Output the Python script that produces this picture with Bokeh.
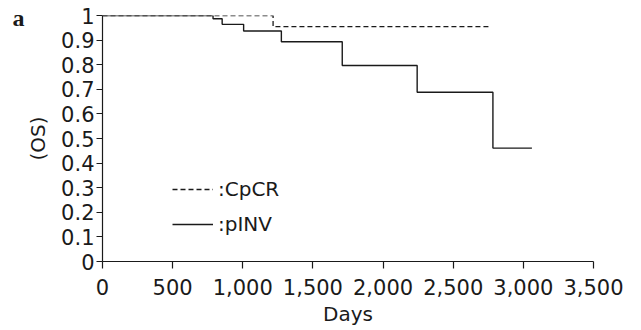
from bokeh.plotting import figure
from bokeh.models import FixedTicker, Legend, LegendItem, Title, Range1d
from bokeh.embed import file_html
from bokeh.resources import INLINE

# Data
pinv_days = [0, 788, 853, 1006, 1275, 1709, 2243, 2783, 3061]
pinv_surv = [1.0, 0.987, 0.964, 0.937, 0.893, 0.797, 0.688, 0.461, 0.461]
cpcr_days = [0, 1216, 2751]
cpcr_surv = [1.0, 0.955, 0.955]

x_ticks = [0, 500, 1000, 1500, 2000, 2500, 3000, 3500]
x_tick_labels = ["0", "500", "1,000", "1,500", "2,000", "2,500", "3,000", "3,500"]
y_ticks = [0, 0.1, 0.2, 0.3, 0.4, 0.5, 0.6, 0.7, 0.8, 0.9, 1.0]
y_tick_labels = ["0", "0.1", "0.2", "0.3", "0.4", "0.5", "0.6", "0.7", "0.8", "0.9", "1"]

FONT = "DejaVu Sans"
INK = "#1a1a1a"

p = figure(width=641, height=330, output_backend="svg", toolbar_location=None,
           x_range=Range1d(0, 3500), y_range=Range1d(0, 1),
           min_border_left=102, min_border_right=48, min_border_top=15, min_border_bottom=69)
p.outline_line_color = None
p.xgrid.visible = False
p.ygrid.visible = False
p.background_fill_color = "white"
p.border_fill_color = "white"

r_cpcr = p.step(cpcr_days, cpcr_surv, mode="after", line_color=INK, line_width=1.3, line_dash="5 3")
r_pinv = p.step(pinv_days, pinv_surv, mode="after", line_color=INK, line_width=1.4)

for ax in (p.xaxis[0], p.yaxis[0]):
    ax.axis_line_color = INK
    ax.axis_line_width = 1.2
    ax.major_tick_line_color = INK
    ax.major_tick_line_width = 1.2
    ax.major_tick_in = 0
    ax.minor_tick_line_color = None
    ax.major_label_text_font = FONT
    ax.major_label_text_font_size = "21px"
    ax.major_label_text_color = INK
    ax.axis_label_text_font = FONT
    ax.axis_label_text_font_size = "20px"
    ax.axis_label_text_font_style = "normal"
    ax.axis_label_text_color = INK

p.xaxis.ticker = FixedTicker(ticks=x_ticks)
p.xaxis.major_label_overrides = {t: l for t, l in zip(x_ticks, x_tick_labels)}
p.xaxis.major_tick_out = 7
p.xaxis.major_label_standoff = 10
p.xaxis.axis_label = "Days"
p.xaxis.axis_label_standoff = 4

p.yaxis.ticker = FixedTicker(ticks=y_ticks)
p.yaxis.major_label_overrides = {t: l for t, l in zip(y_ticks, y_tick_labels)}
p.yaxis.major_tick_out = 6
p.yaxis.major_label_standoff = 2
p.yaxis.axis_label = "(OS)"
p.yaxis.axis_label_standoff = 8

legend = Legend(items=[LegendItem(label=":CpCR", renderers=[r_cpcr]),
                       LegendItem(label=":pINV", renderers=[r_pinv])],
                location=(70, 25), orientation="vertical",
                glyph_width=41, glyph_height=20, label_height=20, spacing=11,
                label_standoff=5, padding=0, margin=0,
                label_text_font=FONT, label_text_font_size="20px", label_text_color=INK,
                background_fill_alpha=0, border_line_color=None)
p.add_layout(legend)

p.add_layout(Title(text="a", align="left", offset=-90, standoff=-30,
                   text_font="Liberation Serif", text_font_size="24px", text_font_style="bold",
                   text_color=INK, vertical_align="bottom"), "above")

open("out.html", "w").write(file_html(p, INLINE))
